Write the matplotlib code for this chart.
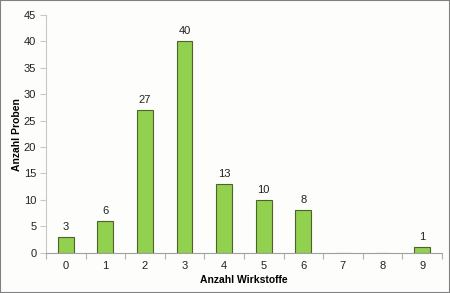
import matplotlib
matplotlib.use("Agg")
import matplotlib.pyplot as plt
import numpy as np

categories = ["0", "1", "2", "3", "4", "5", "6", "7", "8", "9"]
values = [3, 6, 27, 40, 13, 10, 8, 0, 0, 1]
labels = ["3", "6", "27", "40", "13", "10", "8", "", "", "1"]
yticks = [0, 5, 10, 15, 20, 25, 30, 35, 40, 45]

plt.rcParams['font.family'] = ['Liberation Sans', 'DejaVu Sans']

fig = plt.figure(figsize=(4.5, 2.93), dpi=100, facecolor="#fdfdfb")
ax = fig.add_axes([0.1022, 0.1375, 0.8798, 0.8113])
ax.set_facecolor("#fdfdfb")

x = np.arange(len(categories))
bars = ax.bar(x, values, width=0.4, color="#92d050", edgecolor="#4f6228", linewidth=0.8, zorder=3)
for xi, v, lab in zip(x, values, labels):
    if lab:
        ax.text(xi, v + 1.0, lab, ha="center", va="bottom", fontsize=8, color="#222222")

ax.set_xlim(-0.5, len(categories) - 0.5)
ax.set_ylim(0, 45)
ax.set_yticks(yticks)
ax.set_xticks(x)
ax.set_xticklabels(categories)
ax.set_xticks(np.arange(-0.5, len(categories), 1.0), minor=True)
ax.tick_params(axis="x", which="major", length=0, labelsize=8, pad=6, colors="#222222")
ax.tick_params(axis="x", which="minor", length=4, color="#b0b0b0", width=0.8)
ax.tick_params(axis="y", length=4, color="#c8c8c8", width=0.8, labelsize=8, pad=3)
ax.tick_params(axis="y", colors="#c8c8c8", labelcolor="#222222")

for s in ["top", "right"]:
    ax.spines[s].set_visible(False)
ax.spines["left"].set_color("#c8c8c8")
ax.spines["bottom"].set_color("#a0a0a0")
ax.spines["left"].set_linewidth(0.8)
ax.spines["bottom"].set_linewidth(0.8)

ax.set_xlabel("Anzahl Wirkstoffe", fontsize=7.5, fontweight="bold", labelpad=3)
ax.set_ylabel("Anzahl Proben", fontsize=7.5, fontweight="bold", va="center")
ax.yaxis.set_label_coords(-0.072, 0.495)

fig.patches.append(plt.Rectangle((0, 0), 1, 1, transform=fig.transFigure, fill=False,
                                 edgecolor="#808080", linewidth=1.5))

fig.savefig("out.png", dpi=100, facecolor=fig.get_facecolor())
